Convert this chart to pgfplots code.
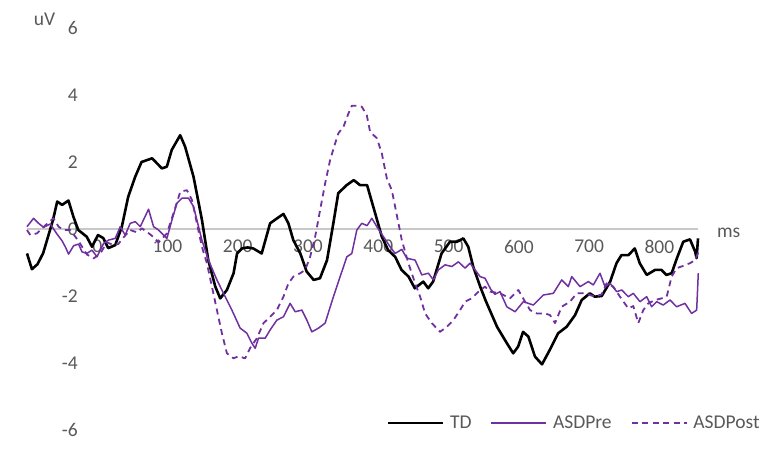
\documentclass[border=0pt]{standalone}
\usepackage{pgfplots}
\pgfplotsset{compat=1.18}
\usepackage{fontspec}
\setmainfont{Carlito}
\definecolor{asdpurple}{RGB}{112,48,160}
\definecolor{txtgray}{RGB}{89,89,89}
\definecolor{linegray}{RGB}{200,200,200}
\begin{document}
\begin{tikzpicture}[font=\fontsize{19.5}{23}\selectfont]
\useasboundingbox (-27pt,-18pt) rectangle (744pt,430pt);
\begin{axis}[
  at={(0pt,0pt)}, anchor=south west,
  scale only axis, width=671pt, height=402pt,
  xmin=-100, xmax=855, ymin=-6, ymax=6,
  axis x line=middle, axis y line=left,
  x axis line style={color=linegray, line width=1.3pt, -},
  y axis line style={draw=none},
  xtick={-100,0,...,800}, ytick={-6,-4,...,6},
  major tick length=0pt,
  /pgf/number format/assume math mode=true,
  tick label style={color=txtgray, font=\fontsize{19.5}{23}\selectfont},
  xticklabel style={anchor=north, yshift=-11pt, inner sep=0pt},
  yticklabel style={anchor=east, xshift=51pt, inner sep=0pt},
  clip=false,
  legend columns=-1,
  legend style={draw=none, fill=none, at={(1.095,0.017)}, anchor=east,
    font=\fontsize{19.5}{23}\selectfont, text=txtgray, inner sep=0pt,
    /tikz/every even column/.append style={column sep=17pt},
    /tikz/every odd column/.append style={column sep=4pt}},
  legend image code/.code={\draw[#1] (0pt,0pt) -- (55pt,0pt);},
]
\addplot[black, line width=2.6pt, line join=round] coordinates {
(-100,-0.73) (-93,-1.2) (-85,-1.05) (-77,-0.72) (-63,0.27) (-57,0.82) (-50,0.72) (-41,0.85) (-34,0.37) (-27,-0.03) (-15,-0.23) (-7.5,-0.53) (1,-0.18) (8.5,-0.27) (15.6,-0.57) (25.6,-0.48) (35,0.07) (44,0.96) (54,1.56) (63,2.0) (78,2.11) (92,1.81) (99,1.86) (106,2.36) (118,2.8) (125,2.46) (137,1.56) (149,0.27) (158,-0.93) (168,-1.72) (175,-2.07) (184.5,-1.82) (194,-1.32) (199,-0.73) (206,-0.58) (214,-0.55) (222,-0.58) (234,-0.73) (246,0.17) (256,0.32) (265,0.45) (272,0.17) (279,-0.33) (289,-0.73) (298,-1.27) (308,-1.52) (317,-1.47) (327,-0.93) (336,0.17) (343,1.07) (355,1.31) (365,1.46) (374,1.31) (384,1.31) (395.5,0.47) (405,-0.23) (414,-0.63) (424,-0.83) (433,-1.22) (443,-1.42) (452,-1.77) (464,-1.57) (471,-1.77) (478,-1.57) (490,-0.73) (502,-0.38) (512,-0.38) (521,-0.28) (528,-0.53) (535,-1.12) (545,-1.72) (553,-2.15) (569,-2.92) (583,-3.41) (592,-3.71) (599,-3.51) (606,-3.07) (613.5,-3.21) (623,-3.81) (633,-4.04) (644,-3.61) (656,-3.11) (668,-2.92) (680,-2.57) (689.5,-2.12) (701,-1.92) (708,-2.02) (718,-2.0) (730,-1.57) (739,-1.02) (746,-0.78) (756,-0.78) (765,-0.58) (772,-1.02) (782,-1.37) (794,-1.22) (803,-1.22) (810,-1.37) (817.5,-1.32) (825,-0.87) (834,-0.38) (843.6,-0.31) (851,-0.68) (853,-0.87) (855,-0.28)
};
\addlegendentry{TD}
\addplot[asdpurple, line width=1.5pt, line join=round] coordinates {
(-100,0.07) (-90.6,0.32) (-83.5,0.17) (-76.4,0.05) (-66.9,0.15) (-57.3,-0.15) (-50.2,-0.35) (-45.5,-0.53) (-40.8,-0.75) (-33.7,-0.5) (-26.6,-0.45) (-21.8,-0.68) (-14.7,-0.73) (-7.5,-0.63) (-0.4,-0.83) (9,-0.43) (16.1,-0.33) (25.6,-0.28) (32.7,0.07) (39.8,-0.18) (46.9,0.17) (54.1,0.22) (61.2,0.07) (73,0.59) (80.1,0.07) (87.2,-0.03) (99.1,-0.28) (106.3,0.27) (113.4,0.77) (120.5,0.92) (129.9,0.92) (137,0.67) (141.8,0.27) (148.9,-0.33) (158.3,-0.93) (170.3,-1.52) (179.7,-1.92) (191.6,-2.42) (203.4,-2.96) (212.9,-3.11) (220.1,-3.41) (224.8,-3.56) (229.5,-3.26) (239,-3.26) (246.1,-3.01) (255.6,-2.72) (265,-2.62) (274.5,-2.22) (281.7,-2.47) (291.2,-2.42) (298.3,-2.72) (305.4,-3.07) (314.8,-2.96) (324.3,-2.81) (336.1,-2.02) (345.7,-1.42) (355.2,-0.83) (362.3,-0.73) (369.4,-0.03) (376.5,0.17) (384,0.1) (390.8,0.32) (397.9,0.07) (407.3,-0.23) (416.8,-0.53) (423.9,-0.73) (433.4,-0.61) (440.5,-0.87) (452.4,-0.93) (461.9,-1.37) (471.3,-1.32) (478.4,-1.52) (485.5,-1.22) (495,-1.07) (504.6,-1.12) (514,-0.98) (523.5,-1.17) (530.6,-1.02) (537.7,-1.22) (544.8,-1.42) (551.9,-1.47) (560,-1.8) (566,-1.95) (573.3,-1.87) (582.8,-2.32) (594.6,-2.47) (606.4,-2.17) (620.6,-2.27) (634.9,-1.97) (649.1,-1.92) (661,-1.52) (670.4,-1.72) (675.3,-1.42) (687.1,-1.72) (698.9,-1.57) (706,-1.67) (715.5,-1.32) (722.6,-1.72) (729.7,-1.62) (739.3,-1.87) (746.4,-1.82) (755.8,-2.02) (762.9,-1.92) (772.4,-2.17) (781.9,-2.02) (789,-2.32) (796.1,-2.17) (805.5,-2.27) (815.1,-2.12) (824.6,-2.32) (836.4,-2.22) (845.9,-2.52) (853.1,-2.42) (855.4,-1.32)
};
\addlegendentry{ASDPre}
\addplot[asdpurple, line width=1.8pt, line join=round, dash pattern=on 6pt off 4.5pt] coordinates {
(-100,-0.03) (-95.3,-0.18) (-85.8,-0.13) (-69.3,0.2) (-62.2,0.32) (-55.1,0.07) (-47.9,-0.03) (-38.4,-0.03) (-27,-0.35) (-14.7,-0.76) (-5.3,-0.88) (4.3,-0.73) (13.8,-0.4) (23.2,-0.48) (29.9,-0.45) (37.4,-0.25) (46.9,-0.03) (56.5,-0.1) (63.6,0.02) (77.8,-0.2) (87.2,-0.4) (99.1,-0.13) (108.5,0.47) (118.1,1.11) (127.6,1.16) (134.7,0.87) (141.8,0.17) (148.9,-0.53) (156,-1.02) (163.2,-1.72) (170.3,-2.42) (177.4,-3.11) (184.5,-3.71) (193.9,-3.86) (201,-3.8) (210.5,-3.86) (217.6,-3.55) (227.2,-3.26) (236.6,-2.81) (246.1,-2.62) (255.6,-2.42) (265,-2.02) (272.1,-1.62) (279.2,-1.42) (288.8,-1.32) (295.9,-1.22) (303,-0.83) (310.1,-0.23) (317.2,0.57) (324.3,1.36) (331.4,2.06) (338.6,2.56) (343.2,2.86) (350.4,3.05) (357.5,3.45) (362.3,3.68) (369.4,3.68) (376.5,3.65) (383.6,3.4) (388.3,2.9) (397.9,2.71) (405,2.26) (412.1,1.51) (419.2,1.16) (426.3,0.42) (433.4,-0.33) (442.8,-1.02) (452.4,-1.62) (459.5,-2.02) (466.6,-2.52) (476.1,-2.81) (487.9,-3.07) (497.5,-2.92) (506.8,-2.72) (516.4,-2.42) (523.5,-2.17) (533,-2.07) (542.4,-1.87) (551.9,-1.72) (559,-1.87) (573.3,-1.92) (587.5,-2.07) (599.3,-1.82) (604.1,-2.0) (616,-2.42) (625.5,-2.52) (637.3,-2.52) (644.4,-2.57) (651.5,-2.81) (661,-2.32) (672.8,-2.17) (682.4,-1.92) (694.2,-1.92) (708.4,-2.02) (717.9,-1.95) (725,-1.62) (734.4,-1.72) (743.9,-2.02) (755.8,-2.37) (762.9,-2.3) (770,-2.81) (777.1,-2.42) (784.2,-2.22) (793.8,-2.12) (803.3,-2.07) (810.4,-2.02) (817.5,-1.42) (824.6,-1.17) (834,-1.1) (843.6,-1.02) (850.7,-0.93) (855.4,-0.7)
};
\addlegendentry{ASDPost}
\node[txtgray, anchor=west, inner sep=0pt] at (rel axis cs:1.028,0.49) {ms};
\node[txtgray, inner sep=0pt] at (rel axis cs:0.026,1.022) {uV};
\end{axis}
\end{tikzpicture}
\end{document}
